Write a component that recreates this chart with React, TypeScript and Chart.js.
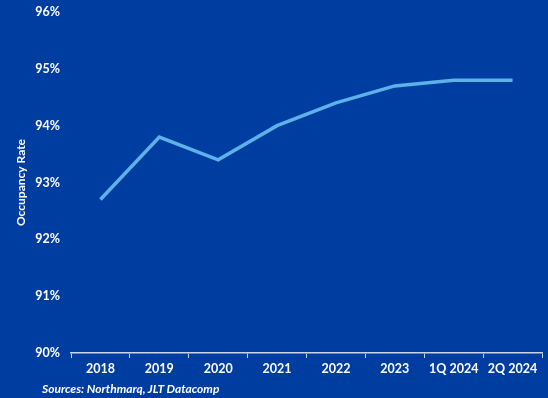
import React, { useEffect, useRef } from "react";
import { Chart, registerables } from "chart.js";

Chart.register(...registerables);

const categories = ["2018", "2019", "2020", "2021", "2022", "2023", "1Q 2024", "2Q 2024"];
const occupancy = [92.7, 93.8, 93.4, 94.0, 94.4, 94.7, 94.8, 94.8];
const yMin = 90;
const yMax = 96;
const yTitle = "Occupancy Rate";
const sourceText = "Sources: Northmarq, JLT Datacomp";

const BG = "#003DA0";
const LINE = "#5CB2E8";
const FONT = "Lato, 'DejaVu Sans', sans-serif";

export default function App() {
  const ref = useRef<HTMLCanvasElement>(null);
  useEffect(() => {
    document.body.style.margin = "0";
    const chart = new Chart(ref.current!, {
      type: "line",
      data: {
        labels: categories,
        datasets: [
          {
            data: occupancy,
            borderColor: LINE,
            borderWidth: 3.5,
            pointRadius: 0,
            tension: 0,
            fill: false,
          },
        ],
      },
      options: {
        animation: false,
        responsive: false,
        maintainAspectRatio: false,
        layout: { padding: { top: 12, right: 6, bottom: 0, left: 0 } },
        plugins: { legend: { display: false }, tooltip: { enabled: false } },
        scales: {
          x: {
            offset: true,
            grid: {
              display: true,
              offset: true,
              drawOnChartArea: false,
              drawTicks: true,
              tickLength: 5,
              color: "#C9D2E6",
            },
            border: { display: true, color: "#C9D2E6", width: 1.5 },
            ticks: {
              color: "#FFFFFF",
              font: { family: FONT, weight: "bold", size: 12.5 },
              padding: 3,
              maxRotation: 0,
              autoSkip: false,
            },
            afterFit: (s: any) => {
              s.height = 45;
            },
          },
          y: {
            min: yMin,
            max: yMax,
            grid: { display: false, drawTicks: false },
            border: { display: false },
            ticks: {
              stepSize: 1,
              color: "#FFFFFF",
              font: { family: FONT, weight: "bold", size: 12.5 },
              padding: 11,
              callback: (v: any) => v + "%",
            },
            title: {
              display: true,
              text: yTitle,
              color: "#FFFFFF",
              font: { family: FONT, weight: "bold", size: 12 },
              padding: { top: 14, bottom: 0 },
            },
            afterFit: (s: any) => {
              s.width = 71;
              s.paddingTop = 0;
            },
          },
        },
      },
    });
    return () => chart.destroy();
  }, []);
  return (
    <div style={{ position: "relative", width: 548, height: 398, background: BG, overflow: "hidden" }}>
      <canvas ref={ref} width={548} height={398} style={{ display: "block" }} />
      <div
        style={{
          position: "absolute",
          left: 42,
          top: 382,
          color: "#FFFFFF",
          fontFamily: FONT,
          fontStyle: "italic",
          fontWeight: "bold",
          fontSize: 12,
          lineHeight: "14px",
          whiteSpace: "nowrap",
        }}
      >
        {sourceText}
      </div>
    </div>
  );
}
